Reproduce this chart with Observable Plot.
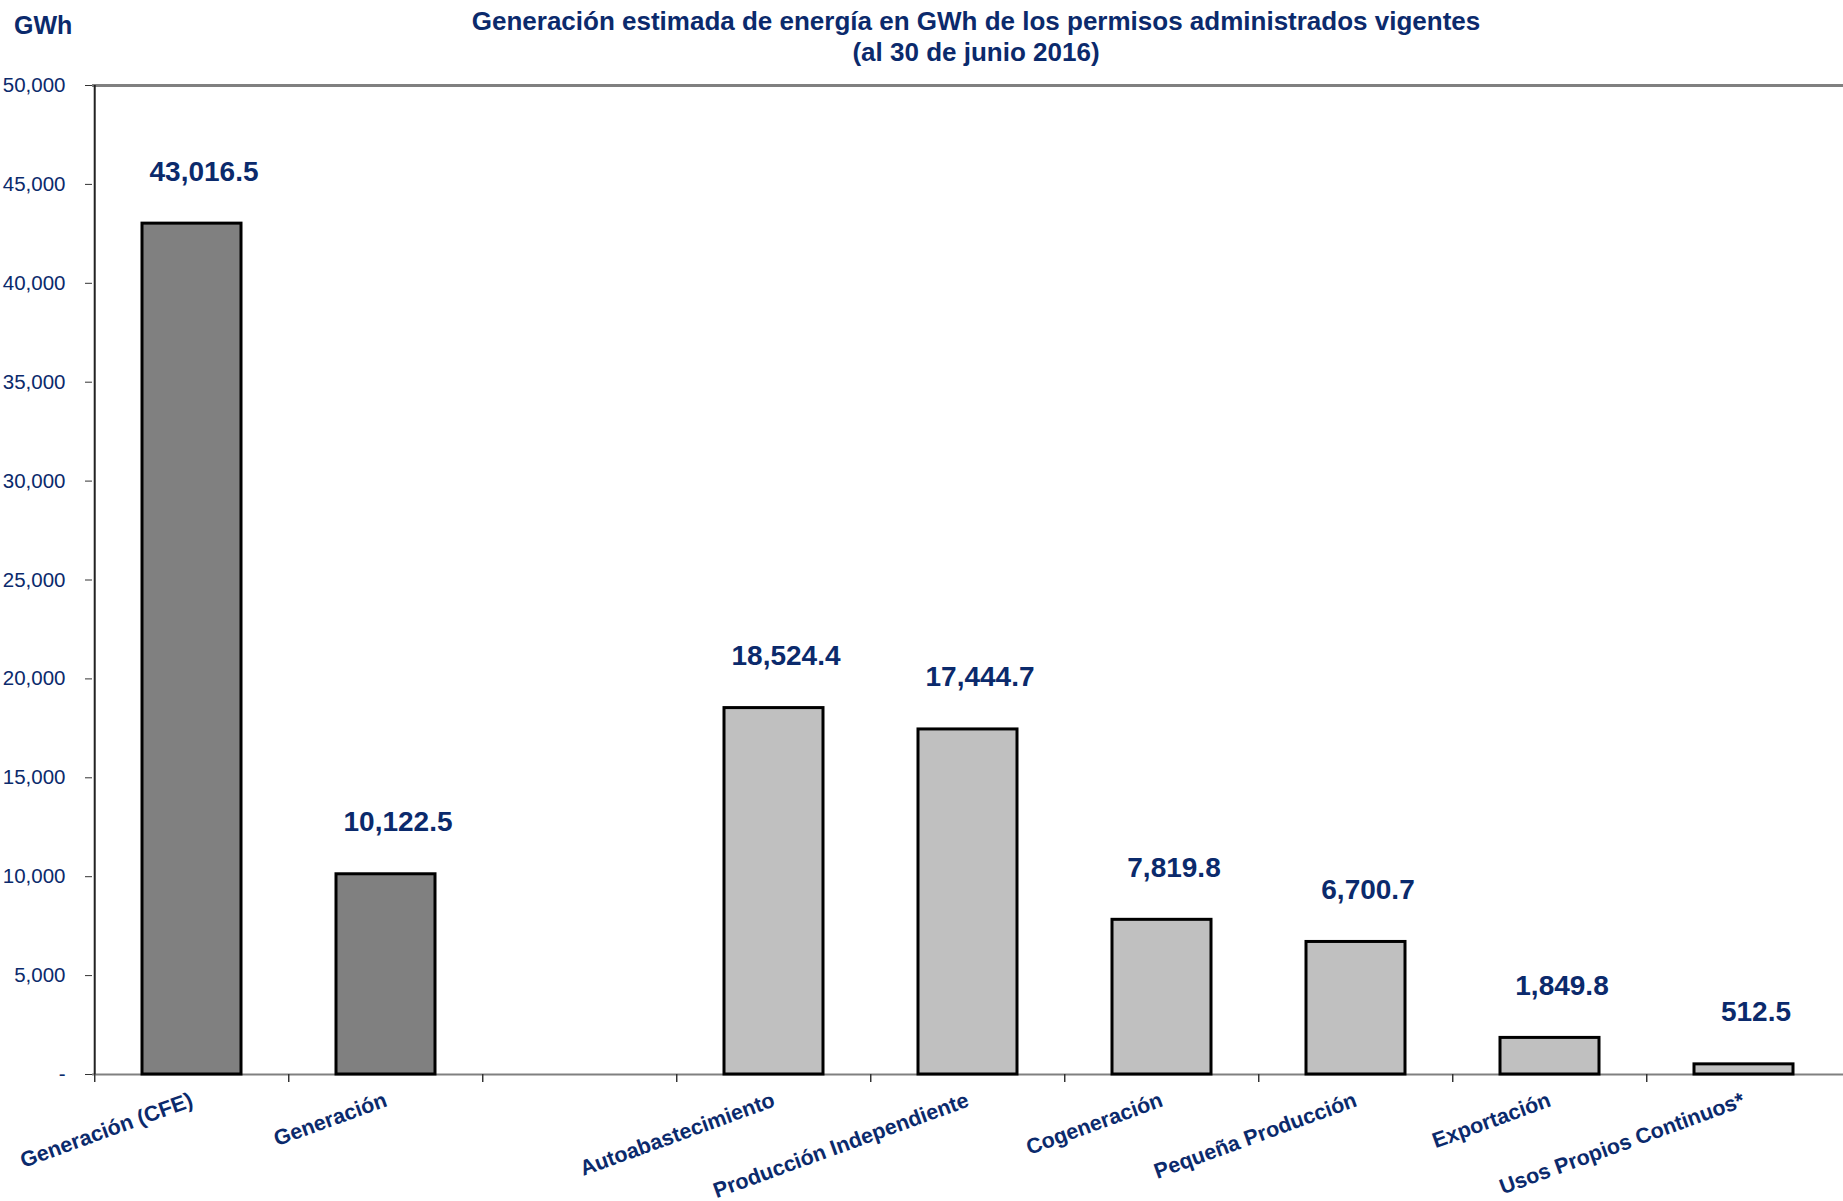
<!DOCTYPE html>
<html>
<head>
<meta charset="utf-8">
<script src="https://cdn.jsdelivr.net/npm/d3@7"></script>
<script src="https://cdn.jsdelivr.net/npm/@observablehq/plot@0.6"></script>
<style>
  html, body { margin: 0; padding: 0; background: #fff; }
  body { width: 1843px; height: 1201px; overflow: hidden; font-family: "Liberation Sans", Arial, sans-serif; }
  #header { position: relative; height: 60px; }
  #title { position: absolute; left: 376px; width: 1200px; top: 6px; text-align: center; color: #0B2A6C; font-weight: bold; font-size: 26px; line-height: 31px; white-space: nowrap; }
  #unit { position: absolute; left: 14px; top: 11px; color: #0B2A6C; font-weight: bold; font-size: 25px; }
</style>
</head>
<body>
<div id="header">
  <div id="unit">GWh</div>
  <div id="title">Generación estimada de energía en GWh de los permisos administrados vigentes<br>(al 30 de junio 2016)</div>
</div>
<div id="chart"></div>
<script>
const categories = ["Generación (CFE)", "Generación", "Autoabastecimiento", "Producción Independiente", "Cogeneración", "Pequeña Producción", "Exportación", "Usos Propios Continuos*"];
const values = [43016.5, 10122.5, 18524.4, 17444.7, 7819.8, 6700.7, 1849.8, 512.5];
const groups = ["CFE", "CFE", "Permisos", "Permisos", "Permisos", "Permisos", "Permisos", "Permisos"];
const yTicks = [0, 5000, 10000, 15000, 20000, 25000, 30000, 35000, 40000, 45000, 50000];

const navy = "#0B2A6C";
const data = categories.map((c, i) => ({category: c, value: values[i], group: groups[i]}));
const xDomain = [categories[0], categories[1], "", ...categories.slice(2)];

const W = 1843, H = 1141, mL = 92, mR = 0, mT = 25, mB = 127;
const step = (W - mL - mR) / xDomain.length;
const fmtVal = d3.format(",.1f");
const fmtTick = d => d === 0 ? "-" : d3.format(",")(d);

const chart = Plot.plot({
  width: W, height: H,
  marginLeft: mL, marginRight: mR, marginTop: mT, marginBottom: mB,
  style: {fontFamily: "'Liberation Sans', Arial, sans-serif", background: "#fff", overflow: "visible"},
  x: {domain: xDomain, paddingInner: 0.49, paddingOuter: 0.245, axis: null},
  y: {domain: [0, 50000], axis: null},
  color: {domain: ["CFE", "Permisos"], range: ["#808080", "#C0C0C0"]},
  marks: [
    Plot.ruleY([50000], {stroke: "#808080", strokeWidth: 3}),
    Plot.ruleY([0], {stroke: "#808080", strokeWidth: 2}),
    Plot.ruleX(xDomain, {x: d => d, y1: 0, y2: 0, dx: -step / 2, insetBottom: -8, stroke: "#333", strokeWidth: 1.5}),
    Plot.ruleX([xDomain[0]], {x: d => d, y1: 0, y2: 50000, dx: -step / 2, stroke: "#222", strokeWidth: 2}),
    Plot.axisY({ticks: yTicks, tickSize: 7, tickPadding: 20, tickFormat: fmtTick, fontSize: 20.5, fill: navy, stroke: "#333", label: null}),
    Plot.barY(data, {x: "category", y: "value", fill: "group", stroke: "#000", strokeWidth: 3}),
    Plot.text(data, {x: "category", y: "value", text: d => fmtVal(d.value), dy: -52, dx: 12, fontSize: 28, fontWeight: "bold", fill: navy}),
    Plot.text(categories, {x: d => d, text: d => d, frameAnchor: "bottom", rotate: -20, textAnchor: "end", lineAnchor: "top", dx: -3, dy: 17, fontSize: 21.5, fontWeight: "bold", fill: navy})
  ]
});
document.getElementById("chart").appendChild(chart);
</script>
</body>
</html>
